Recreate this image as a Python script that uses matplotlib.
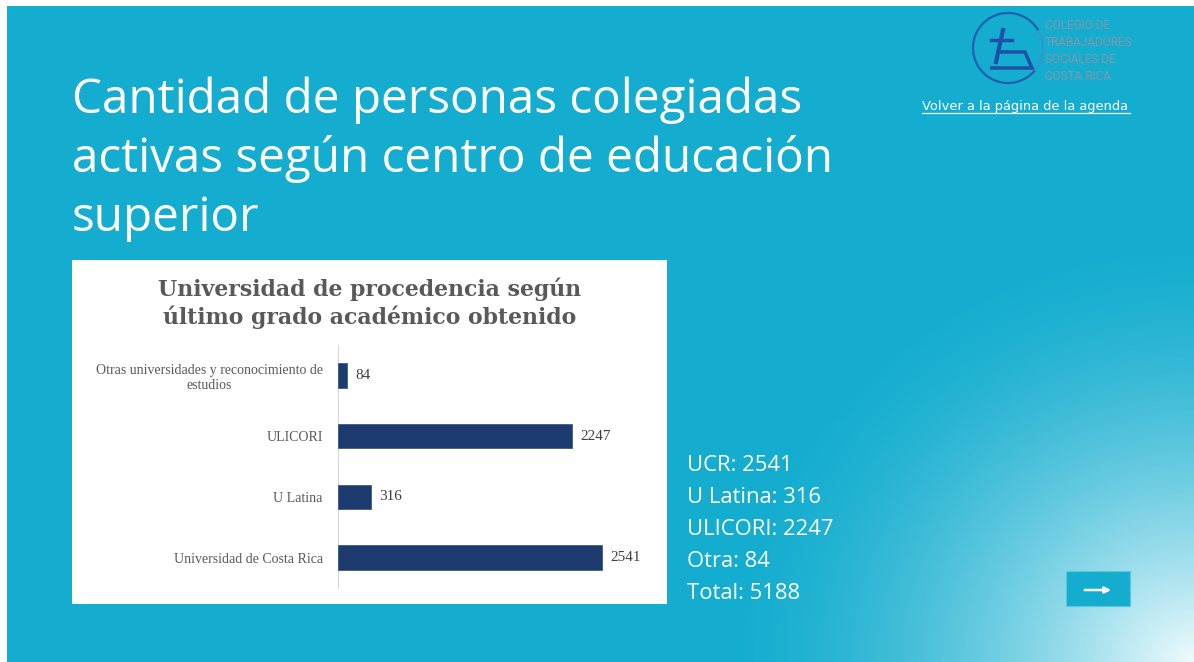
import numpy as np
import matplotlib
matplotlib.use("Agg")
import matplotlib.pyplot as plt
from matplotlib.patches import Rectangle, Arc, Polygon

# data
categories = ["Universidad de Costa Rica", "U Latina", "ULICORI",
              "Otras universidades y reconocimiento de\nestudios"]
values = [2541, 316, 2247, 84]
summary_labels = ["UCR", "U Latina", "ULICORI", "Otra", "Total"]
summary_values = [2541, 316, 2247, 84, 5188]

BLUE = "#14adcf"
NAVY = "#1d3b6f"
W, H = 1194, 662

fig = plt.figure(figsize=(11.94, 6.62), dpi=100)
fig.patch.set_facecolor("white")

# slide background in pixel coordinates
bg = fig.add_axes([0, 0, 1, 1])
bg.set_xlim(0, W)
bg.set_ylim(H, 0)
bg.axis("off")

# blue slide with a light radial glow in the lower right corner
xs = np.arange(7, W)
ys = np.arange(6, H)
gx, gy = np.meshgrid(xs, ys)
d = np.hypot((gx - W) / 1.1, gy - H)
f = np.clip(1 - d / 430, 0, 1) ** 1.6
base = np.array(matplotlib.colors.to_rgb(BLUE))
light = np.array([0.94, 0.985, 0.995])
img = base[None, None, :] + (light - base)[None, None, :] * f[..., None]
bg.imshow(img, extent=(7, W, H, 6), aspect="auto", interpolation="bilinear", zorder=0)

sans = ["Open Sans", "DejaVu Sans"]

# slide title
for i, line in enumerate(["Cantidad de personas colegiadas",
                          "activas según centro de educación",
                          "superior"]):
    bg.text(72, 113 + i * 59, line, color="white", fontsize=34.3, family=sans,
            va="baseline", ha="left")

# summary text
for i, (lab, val) in enumerate(zip(summary_labels, summary_values)):
    bg.text(687, 471 + i * 32, f"{lab}: {val}", color="white", fontsize=15.8,
            family=sans, va="baseline", ha="left")

# logo
bg.add_patch(Arc((1008, 48), 70, 70, theta1=40, theta2=330, color="#1f5fb0", lw=1.6, zorder=3))
bg.add_patch(Arc((1008, 48), 70, 70, theta1=330, theta2=400, color="#4a86c8", lw=1.0, zorder=3))
bg.add_patch(Polygon([[996, 52], [1025, 52], [1032, 68], [990, 68]], closed=False,
                     fill=False, edgecolor="#1f4fa8", lw=2.5, zorder=3))
bg.plot([1003, 996], [30, 62], color="#1f4fa8", lw=3, zorder=3)
bg.plot([991, 1012], [40, 40], color="#1f4fa8", lw=2.5, zorder=3)
for i, line in enumerate(["COLEGIO DE", "TRABAJADORES", "SOCIALES DE", "COSTA RICA"]):
    bg.text(1045, 29 + i * 17, line, color="#8596a6", fontsize=8.5,
            family=["Liberation Sans Narrow", "Roboto", "DejaVu Sans"],
            va="baseline", ha="left")

# link
bg.text(922, 110, "Volver a la página de la agenda", color="white", fontsize=9.4,
        family=["DejaVu Sans"], va="baseline", ha="left")
bg.plot([922, 1130], [112.5, 112.5], color="white", lw=0.9)

# arrow button
bg.add_patch(Rectangle((1066, 571), 64, 35, facecolor=BLUE, edgecolor="#5cc6e0", lw=0.8, zorder=3))
bg.annotate("", xy=(1114, 590), xytext=(1082, 590),
            arrowprops=dict(arrowstyle="-|>", color="white", lw=1.8, mutation_scale=9),
            zorder=4)

# white chart panel
bg.add_patch(Rectangle((72, 260), 595, 344, facecolor="white", edgecolor="none", zorder=2))

serif = ["Liberation Serif", "DejaVu Serif"]
bg.text(370, 296, "Universidad de procedencia según", color="#595959", fontsize=15.8,
        family=["DejaVu Serif"], weight="bold", ha="center", va="baseline", zorder=3)
bg.text(370, 324, "último grado académico obtenido", color="#595959", fontsize=15.8,
        family=["DejaVu Serif"], weight="bold", ha="center", va="baseline", zorder=3)

# bar chart
ax = fig.add_axes([338 / W, (H - 588) / H, 312 / W, 243 / H])
ax.patch.set_alpha(0)
ypos = np.arange(len(categories))
ax.barh(ypos, values, height=0.4, color=NAVY, edgecolor="#2c4d85", lw=0.5, zorder=3)
for y, v in zip(ypos, values):
    ax.text(v + 80, y, str(v), va="center", ha="left", fontsize=11,
            color="#404040", family=serif)
ax.set_xlim(0, 3000)
ax.set_ylim(-0.5, 3.5)
ax.set_yticks(ypos)
ax.set_yticklabels(categories, fontsize=10, color="#595959", family=serif,
                   multialignment="center")
ax.tick_params(axis="y", length=0, pad=11)
ax.set_xticks([])
for s in ["top", "right", "bottom"]:
    ax.spines[s].set_visible(False)
ax.spines["left"].set_color("#d9d9d9")

fig.savefig("out.png", dpi=100)
